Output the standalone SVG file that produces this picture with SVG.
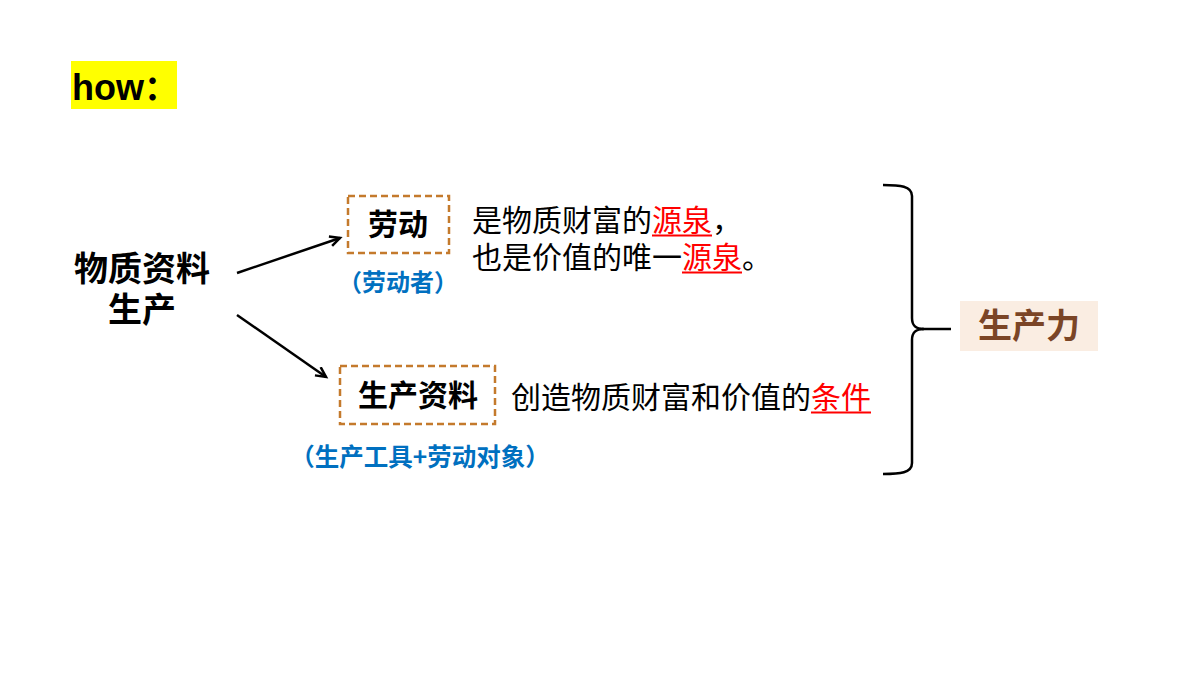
<svg xmlns="http://www.w3.org/2000/svg" width="1200" height="675" viewBox="0 0 1200 675">
<style>
.cjk{font-family:"Noto Sans CJK SC","Noto Sans",sans-serif;}
.b{font-weight:bold;}
.box{fill:none;stroke:#C47A2C;stroke-width:2.5;stroke-dasharray:7 4;}
.conn{stroke:#000;stroke-width:2.5;fill:none;}
.red{fill:#FF0000;}
.ul{stroke:#FF0000;stroke-width:1.8;}
.blue{fill:#0070C0;}
</style>
<defs>
<marker id="ah" markerWidth="14" markerHeight="14" refX="11" refY="6" orient="auto" markerUnits="userSpaceOnUse">
<path d="M1,1 L11,6 L1,11" fill="none" stroke="#000" stroke-width="2.5"/>
</marker>
</defs>
<rect width="1200" height="675" fill="#fff"/>
<g id="title">
<rect x="71" y="61" width="106" height="48" fill="#FFFF00"/>
<text x="72" y="100" font-family="'Liberation Sans',Arial,sans-serif" font-weight="bold" font-size="36" fill="#000">how<tspan class="cjk" font-size="34">：</tspan></text>
</g>
<g id="source">
<text class="cjk b" x="142" y="281" font-size="34" text-anchor="middle" fill="#000">物质资料</text>
<text class="cjk b" x="142" y="322" font-size="34" text-anchor="middle" fill="#000">生产</text>
</g>
<g id="connectors">
<line class="conn" x1="237" y1="273" x2="340" y2="238" marker-end="url(#ah)"/>
<line class="conn" x1="237" y1="315" x2="326" y2="377" marker-end="url(#ah)"/>
<path class="conn" stroke-width="3" d="M883,185 C900,185 912,186 912,196 L912,318 C912,326 916,329 924,329 C916,329 912,332 912,340 L912,463 C912,473 900,474 883,474"/>
<line class="conn" stroke-width="3" x1="922" y1="329" x2="951" y2="329"/>
</g>
<g id="labor">
<rect class="box" x="348" y="196" width="101" height="57"/>
<text class="cjk b" x="398" y="235" font-size="30" text-anchor="middle" fill="#000">劳动</text>
<text class="cjk b blue" x="398" y="291" font-size="24" text-anchor="middle">（劳动者）</text>
<text class="cjk" x="472" y="231" font-size="30" fill="#000">是物质财富的<tspan class="red">源泉</tspan>，</text>
<text class="cjk" x="472" y="268" font-size="30" fill="#000">也是价值的唯一<tspan class="red">源泉</tspan>。</text>
<line class="ul" x1="652" y1="235.5" x2="712" y2="235.5"/>
<line class="ul" x1="682" y1="272.5" x2="742" y2="272.5"/>
</g>
<g id="means">
<rect class="box" x="340" y="366" width="155" height="58"/>
<text class="cjk b" x="418" y="406" font-size="30" text-anchor="middle" fill="#000">生产资料</text>
<text class="cjk b blue" x="420" y="466" font-size="24.5" text-anchor="middle">（生产工具+劳动对象）</text>
<text class="cjk" x="511" y="408" font-size="30" fill="#000">创造物质财富和价值的<tspan class="red">条件</tspan></text>
<line class="ul" x1="811" y1="412.5" x2="871" y2="412.5"/>
</g>
<g id="productivity">
<rect x="960" y="301" width="138" height="50" fill="#FAEDE2"/>
<text class="cjk b" x="1029" y="338" font-size="34" text-anchor="middle" fill="#7B4526">生产力</text>
</g>
</svg>
